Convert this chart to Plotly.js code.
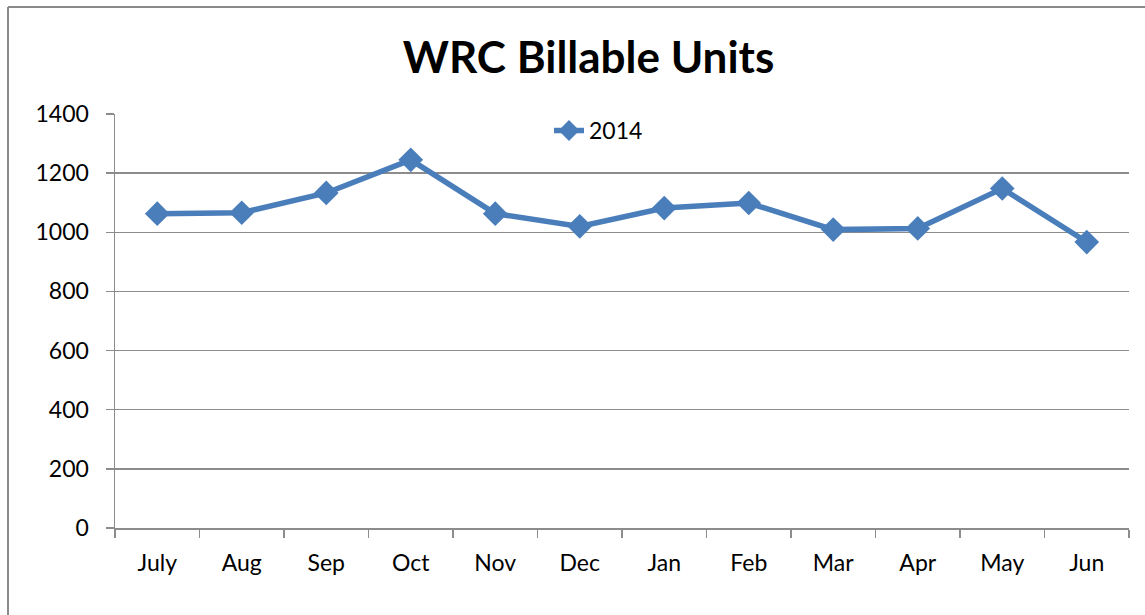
<!DOCTYPE html>
<html>
<head>
<meta charset="utf-8">
<script src="https://cdn.plot.ly/plotly-3.0.1.min.js"></script>
<style>
  html, body { margin: 0; padding: 0; background: #ffffff; overflow: hidden; }
  #chart { position: absolute; left: 0; top: 0; width: 1145px; height: 615px; }
</style>
</head>
<body>
<div id="chart"></div>
<script>
const months = ["July", "Aug", "Sep", "Oct", "Nov", "Dec", "Jan", "Feb", "Mar", "Apr", "May", "Jun"];
const units2014 = [1063, 1066, 1133, 1245, 1063, 1020, 1082, 1099, 1009, 1013, 1148, 967];
const yTicks = [0, 200, 400, 600, 800, 1000, 1200, 1400];
const seriesName = "2014";
const chartTitle = "WRC Billable Units";

const blue = "#4a7ebb";
const grey = "#8c8c8c";
const font = "Lato, 'Open Sans', sans-serif";

const W = 1145, H = 615;
const M = { l: 115, r: 16, t: 114, b: 87 };
const pw = W - M.l - M.r, ph = H - M.t - M.b;
// outer chart frame (left and top edges; the rest runs off the page)
const frameX = (8 - M.l) / pw;
const frameY = (H - 7 - M.b) / ph;

const trace = {
  x: months,
  y: units2014,
  name: seriesName,
  type: "scatter",
  mode: "lines+markers",
  line: { color: blue, width: 5.5 },
  marker: { symbol: "diamond", size: 19, color: blue },
  showlegend: true,
  cliponaxis: false
};

const layout = {
  width: W,
  height: H,
  paper_bgcolor: "#ffffff",
  plot_bgcolor: "rgba(0,0,0,0)",
  margin: M,
  font: { family: font, size: 23, color: "#000000" },
  title: {
    text: chartTitle,
    font: { family: font, size: 44, color: "#000000", weight: "bold" },
    xref: "paper", x: 0.467, xanchor: "center",
    yref: "container", y: 0.906, yanchor: "middle"
  },
  xaxis: {
    type: "category",
    range: [-0.5, months.length - 0.5],
    tickson: "boundaries",
    ticks: "outside",
    ticklen: 8,
    tickcolor: grey,
    tickwidth: 1.5,
    showline: true,
    linecolor: grey,
    linewidth: 1.5,
    showgrid: false,
    zeroline: false,
    ticklabelstandoff: 14,
    tickfont: { family: font, size: 23, color: "#000000" },
    fixedrange: true
  },
  yaxis: {
    range: [0, 1400],
    tickvals: yTicks,
    ticktext: yTicks.map(String),
    ticks: "outside",
    ticklen: 8,
    tickcolor: grey,
    tickwidth: 1.5,
    showline: true,
    linecolor: grey,
    linewidth: 1.5,
    showgrid: true,
    gridcolor: grey,
    gridwidth: 1.5,
    zeroline: false,
    ticklabelstandoff: 12,
    tickfont: { family: font, size: 23, color: "#000000" },
    fixedrange: true
  },
  legend: {
    orientation: "h",
    x: 0.428, xanchor: "left",
    y: 0.96, yanchor: "middle",
    bgcolor: "rgba(0,0,0,0)",
    font: { family: font, size: 23, color: "#000000" }
  },
  shapes: [
    { type: "line", xref: "paper", yref: "paper", x0: frameX, x1: frameX, y0: frameY, y1: -0.5,
      line: { color: "#8a8a8a", width: 2 }, layer: "below" },
    { type: "line", xref: "paper", yref: "paper", x0: frameX, x1: 1.5, y0: frameY, y1: frameY,
      line: { color: "#8a8a8a", width: 2 }, layer: "below" }
  ]
};

Plotly.newPlot("chart", [trace], layout, { displayModeBar: false, staticPlot: true });
</script>
</body>
</html>
